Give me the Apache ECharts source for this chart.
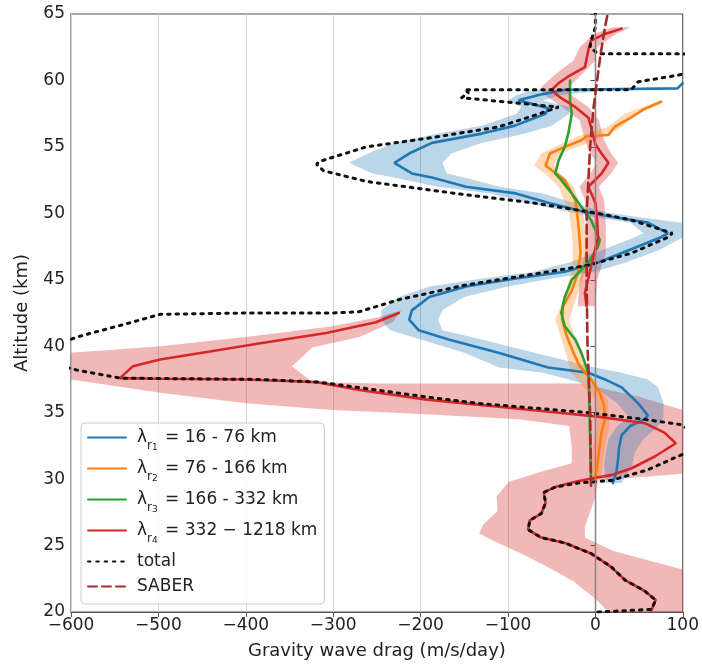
<!DOCTYPE html>
<html><head><meta charset="utf-8">
<script src="https://cdn.jsdelivr.net/npm/echarts@6/dist/echarts.min.js"></script>
<style>html,body{margin:0;padding:0;background:#fff}#c{width:702px;height:666px}</style>
</head><body><div id="c"></div>
<script>
// ---- axis ticks ----
const xTicks = [-600, -500, -400, -300, -200, -100, 0, 100];
const yTicks = [20, 25, 30, 35, 40, 45, 50, 55, 60, 65];

// ---- lines: [drag, altitude] ----
const blueLine = [[20,29.7],[24,30.5],[26,31.5],[27,32.3],[30,33.3],[40,34.0],[56,34.5],[60,34.8],[49,35.7],[30,36.9],[11,37.5],[-8,38.0],[-54,38.4],[-111,39.5],[-168,40.5],[-202,41.2],[-213,42.0],[-210,42.7],[-190,43.7],[-148,44.5],[-91,45.1],[-35,45.6],[3,46.3],[41,47.3],[75,48.2],[83,48.5],[60,49.3],[22,49.7],[-12,50.1],[-54,50.8],[-91,51.5],[-148,52.0],[-187,52.7],[-210,53.0],[-230,53.8],[-213,54.5],[-187,55.3],[-130,56.0],[-92,56.6],[-57,57.5],[-54,57.9],[-88,58.5],[-65,58.9],[-35,59.3],[94,59.4],[100,59.8]];
const orangeLine = [[0,30.0],[3,31.5],[7,33.5],[11,34.5],[10,35.5],[5,36.5],[-5,37.5],[-18,38.5],[-25,39.5],[-33,40.8],[-38,42.0],[-37,43.0],[-27,44.2],[-20,45.5],[-17,47.0],[-18,48.0],[-20,49.5],[-23,51.0],[-35,52.5],[-57,53.6],[-52,54.5],[-35,55.0],[-16,55.5],[-10,55.8],[15,55.9],[22,56.5],[38,57.1],[55,57.8],[75,58.4]];
const greenLine = [[-5,30.0],[-6,33.0],[-7,36.0],[-8,38.0],[-16,39.5],[-23,40.5],[-35,41.5],[-39,42.5],[-35,43.7],[-27,45.0],[-8,46.3],[3,47.5],[5,48.0],[-5,49.5],[-16,50.5],[-27,51.5],[-39,52.5],[-46,53.0],[-42,54.0],[-35,55.0],[-31,56.0],[-27,57.5],[-29,58.5],[-29,60.0]];
const redLineLow = [[64,20.1],[69,20.9],[56,21.6],[34,22.4],[18,23.4],[-5,24.4],[-35,25.2],[-62,25.6],[-77,26.2],[-75,26.9],[-62,27.4],[-57,28.2],[-59,29.0],[-46,29.4],[-23,29.8],[0,30.1],[18,30.3],[41,30.8],[68,31.7],[92,32.7],[79,33.5],[57,34.2],[3,34.7],[-73,35.2],[-149,35.7],[-195,36.0],[-270,36.7],[-319,37.3],[-400,37.5],[-500,37.55],[-544,37.6],[-529,38.5],[-498,39.0],[-441,39.6],[-385,40.2],[-308,41.0],[-251,41.8],[-225,42.5]];
const redLineHigh = [[-10,43.0],[-12,44.0],[-6,45.7],[3,48.2],[2,49.5],[0,50.8],[-8,52.0],[7,53.0],[15,53.8],[7,54.5],[0,55.2],[-5,56.5],[-8,57.2],[-23,58.0],[-42,58.8],[-50,59.3],[-42,59.8],[-31,60.3],[-12,61.0],[-8,62.3],[-5,63.0],[11,63.5],[30,63.9]];
const totalLine = [[3,20.0],[64,20.2],[69,20.9],[56,21.6],[34,22.4],[18,23.4],[-5,24.4],[-35,25.2],[-62,25.6],[-77,26.2],[-75,26.9],[-62,27.4],[-57,28.2],[-59,29.0],[-46,29.4],[-20,29.7],[18,29.9],[60,30.7],[94,31.7],[130,32.7],[98,34.1],[56,34.5],[-8,35.0],[-134,35.7],[-195,36.2],[-316,37.3],[-385,37.5],[-544,37.6],[-593,38.2],[-650,39.2],[-593,40.7],[-536,41.7],[-498,42.4],[-400,42.5],[-300,42.5],[-270,42.6],[-225,43.5],[-149,44.6],[-73,45.4],[-8,46.1],[41,47.0],[83,48.2],[88,48.5],[41,49.5],[3,50.0],[-73,50.8],[-149,51.4],[-262,52.4],[-311,53.2],[-319,53.7],[-316,53.9],[-262,55.0],[-187,55.7],[-111,56.5],[-73,57.3],[-42,58.0],[-153,58.7],[-145,59.1],[-150,59.3],[41,59.3],[49,59.9],[95,60.4],[140,61.0],[140,61.9],[94,62.0],[3,62.0],[-6,62.5],[-5,63.0],[0,64.0],[0,65.0]];
const saberLine = [[-5,29.5],[-6,35],[-9,40],[-10,45],[-10,50],[-6,55],[-2,58],[2,60],[6,62],[11,64],[14,65]];

// ---- uncertainty bands ----
const blueBandAlt = [29.7,31,32,33,34,34.7,35.7,36.9,37.5,38.0,38.4,39.5,40.5,41.2,42.0,42.7,43.7,44.5,45.1,45.6,46.3,47.3,48.2,48.5,49.3,49.7,50.1,50.8,51.5,52.0,52.7,53.0,53.8,54.5,55.3,56.0,56.6,57.5,58.0,58.5,58.9,59.3];
const blueBandLo  = [12,10,12,15,25,38,25,0,-30,-60,-110,-150,-200,-235,-245,-245,-225,-190,-130,-70,-30,10,45,55,40,0,-30,-80,-120,-180,-230,-255,-282,-260,-230,-180,-130,-90,-85,-100,-90,-70];
const blueBandHi  = [30,42,45,55,72,78,78,72,60,30,0,-70,-130,-175,-180,-175,-150,-100,-50,0,35,75,100,100,100,50,10,-25,-60,-110,-150,-170,-175,-165,-130,-80,-50,-30,-30,-60,-40,20];
const orangeBandAlt = [30,32,34,36,38,40,42,44,46,48,50,52,53,53.6,54.5,55.2,55.8,56.5,57.5,58.4];
const orangeBandLo  = [-6,-4,2,0,-28,-36,-46,-34,-26,-26,-30,-42,-58,-70,-62,-40,-20,14,34,70];
const orangeBandHi  = [6,10,16,14,-8,-20,-30,-20,-10,-10,-14,-25,-40,-48,-40,-12,10,30,46,80];
const redHighBandAlt = [43,45,47,49,51,52,53,53.8,54.5,55.5,57,58,59,59.5,60.5,61.5,62.5,63.5,64];
const redHighBandLo  = [-20,-18,-12,-10,-12,-18,-6,2,-6,-12,-18,-38,-60,-62,-45,-25,-18,-2,20];
const redHighBandHi  = [0,2,12,12,10,4,18,26,18,10,4,-8,-30,-30,-15,0,2,24,40];
const redLowBandOutline = [[15,20],[0,21],[-25,22.3],[-55,23.4],[-85,24.4],[-115,25.3],[-133,25.9],[-128,26.6],[-112,27.6],[-113,28.7],[-99,29.8],[-60,30.6],[-27,31.2],[-27,32.4],[-30,34.0],[-88,34.5],[-200,34.9],[-301,35.2],[-400,35.7],[-498,36.5],[-600,37.5],[-600,39.5],[-498,40.0],[-400,40.7],[-301,41.5],[-247,42.2],[-222,42.7],[-232,41.8],[-270,40.7],[-324,39.9],[-347,38.5],[-324,37.3],[-250,37.2],[-100,37.2],[-16,37.2],[50,36.2],[100,35.2],[100,30.4],[60,30.2],[3,29.9],[0,28.7],[-12,26.4],[-12,25.6],[20,24.6],[60,23.9],[100,23.2],[100,20]];

// ---- legend texts ----
const legendNames = ['r1','r2','r3','r4','total','SABER'];
const legendRanges = {r1:' = 16 - 76 km', r2:' = 76 - 166 km', r3:' = 166 - 332 km', r4:' = 332 \u2212 1218 km'};

const FONT = 'DejaVu Sans';
function loHi(alt, lo, hi) {
  const a = alt.map((y, i) => [lo[i], y]);
  const b = alt.map((y, i) => [hi[i], y]).reverse();
  return a.concat(b);
}
function band(poly, color) {
  return {
    type: 'custom', silent: true, clip: true, z: 1,
    data: [[0, 40]],
    renderItem: (params, api) => ({
      type: 'polygon',
      shape: { points: poly.map(p => api.coord(p)) },
      style: { fill: color }
    })
  };
}
function line(name, data, color, width, type, z) {
  return { type: 'line', name, data, symbol: 'none', showSymbol: false, z: z || 3, clip: true,
    lineStyle: { color, width, type: type || 'solid', cap: 'round' }, itemStyle: { color } };
}

const chart = echarts.init(document.getElementById('c'));
chart.setOption({
  animation: false,
  backgroundColor: '#fff',
  grid: { left: 71, right: 17, top: 14, bottom: 54, show: true, borderColor: '#555', borderWidth: 1.2 },
  xAxis: {
    type: 'value', min: xTicks[0], max: xTicks[xTicks.length - 1], interval: 100,
    name: 'Gravity wave drag (m/s/day)', nameLocation: 'middle', nameGap: 30,
    nameTextStyle: { fontFamily: FONT, fontSize: 18, color: '#222' },
    axisLine: { lineStyle: { color: '#555', width: 1.2 } },
    axisTick: { show: true, length: 5, lineStyle: { color: '#555' } },
    axisLabel: { fontFamily: FONT, fontSize: 17, color: '#222', margin: 5,
      formatter: v => v < 0 ? '\u2212' + Math.abs(v) : String(v) },
    splitLine: { show: true, lineStyle: { color: '#d3d3d3', width: 1 } }
  },
  yAxis: {
    type: 'value', min: yTicks[0], max: yTicks[yTicks.length - 1], interval: 5,
    name: 'Altitude (km)', nameLocation: 'middle', nameGap: 40, nameRotate: 90,
    nameTextStyle: { fontFamily: FONT, fontSize: 18, color: '#222' },
    axisLine: { lineStyle: { color: '#555', width: 1.2 } },
    axisTick: { show: true, length: 5, lineStyle: { color: '#555' } },
    axisLabel: { fontFamily: FONT, fontSize: 17, color: '#222', margin: 6 },
    splitLine: { show: false }
  },
  legend: {
    data: legendNames, orient: 'vertical', left: 81, top: 423,
    backgroundColor: 'rgba(255,255,255,0.85)', borderColor: '#ccc', borderWidth: 1, borderRadius: 4,
    padding: [6, 7, 9, 6], itemGap: 8, itemWidth: 38, itemHeight: 14,
    itemStyle: { opacity: 0 },
    textStyle: { fontFamily: FONT, fontSize: 17, color: '#222',
      rich: {
        sp: { width: 6 },
        l: { fontFamily: FONT, fontSize: 17, color: '#222', lineHeight: 29 },
        s: { fontFamily: FONT, fontSize: 12, color: '#222', lineHeight: 16, verticalAlign: 'bottom' },
        ss: { fontFamily: FONT, fontSize: 9, color: '#222', lineHeight: 11, verticalAlign: 'bottom', padding: [0, 2, 0, 0] },
        p1: { fontFamily: FONT, fontSize: 17, color: '#222', lineHeight: 22 },
        p2: { fontFamily: FONT, fontSize: 17, color: '#222', lineHeight: 16 }
      } },
    formatter: n => legendRanges[n]
      ? '{sp|}{l|\u03bb}{s|r}{ss|' + n.slice(1) + '}{l|' + legendRanges[n] + '}'
      : (n === 'total' ? '{sp|}{p1|' + n + '}' : '{sp|}{p2|' + n + '}')
  },
  series: [
    { type: 'line', data: [], z: 0, silent: true,
      markLine: { silent: true, symbol: 'none', label: { show: false }, animation: false,
        lineStyle: { color: '#888', width: 1.3, type: 'solid' }, data: [{ xAxis: 0 }] } },
    band(redLowBandOutline, 'rgba(214,39,40,0.33)'),
    band(loHi(redHighBandAlt, redHighBandLo, redHighBandHi), 'rgba(214,39,40,0.33)'),
    band(loHi(blueBandAlt, blueBandLo, blueBandHi), 'rgba(31,119,180,0.3)'),
    band(loHi(orangeBandAlt, orangeBandLo, orangeBandHi), 'rgba(255,127,14,0.3)'),
    line('r1', blueLine, '#1f77b4', 2.6),
    line('r2', orangeLine, '#ff7f0e', 2.6),
    line('r3', greenLine, '#2ca02c', 2.6),
    line('r4', redLineLow, '#d62728', 2.6),
    line('r4', redLineHigh, '#d62728', 2.6),
    line('total', totalLine, '#111', 3, [2.5, 5.8], 4),
    line('SABER', saberLine, '#a52a2a', 2.6, [9, 5], 5)
  ]
});
</script></body></html>
